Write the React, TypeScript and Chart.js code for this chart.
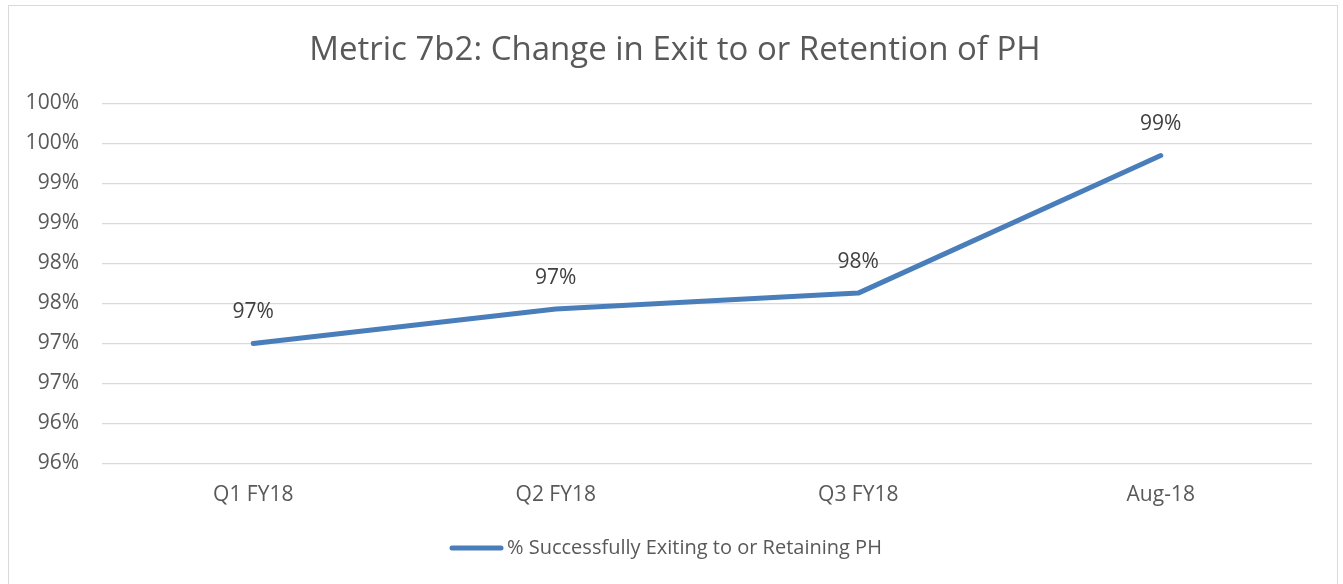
import React, { useEffect, useRef } from "react";
import { Chart, registerables } from "chart.js";

Chart.register(...registerables);

const TITLE = "Metric 7b2: Change in Exit to or Retention of PH";
const categories = ["Q1 FY18", "Q2 FY18", "Q3 FY18", "Aug-18"];
const seriesName = "% Successfully Exiting to or Retaining PH";
const seriesValues = [97.0, 97.43, 97.63, 99.35];
const yMin = 95.5;
const yMax = 100;
const yStep = 0.5;

const FONT = "'Open Sans', sans-serif";
const LINE_COLOR = "#4A7EBB";

const decorPlugin = {
  id: "decor",
  beforeDraw(chart: any) {
    const ctx = chart.ctx;
    ctx.save();
    ctx.fillStyle = "#ffffff";
    ctx.fillRect(0, 0, chart.width, chart.height);
    ctx.strokeStyle = "#d9d9d9";
    ctx.lineWidth = 1;
    ctx.strokeRect(8.5, 5.5, 1329, 620);
    ctx.restore();
  },
  afterDraw(chart: any) {
    const ctx = chart.ctx;
    ctx.save();
    // title
    ctx.fillStyle = "#595959";
    ctx.font = `33px ${FONT}`;
    ctx.textAlign = "center";
    ctx.textBaseline = "alphabetic";
    ctx.fillText(TITLE, 675, 60);
    // legend
    ctx.strokeStyle = LINE_COLOR;
    ctx.lineWidth = 5;
    ctx.lineCap = "round";
    ctx.beginPath();
    ctx.moveTo(452, 548);
    ctx.lineTo(501, 548);
    ctx.stroke();
    ctx.font = `20px ${FONT}`;
    ctx.textAlign = "left";
    ctx.textBaseline = "middle";
    ctx.fillText(chart.data.datasets[0].label, 507, 548);
    ctx.restore();
  },
  afterDatasetsDraw(chart: any) {
    const ctx = chart.ctx;
    const meta = chart.getDatasetMeta(0);
    const vals = chart.data.datasets[0].data as number[];
    ctx.save();
    ctx.fillStyle = "#404040";
    ctx.font = `21px ${FONT}`;
    ctx.textAlign = "center";
    ctx.textBaseline = "middle";
    meta.data.forEach((pt: any, i: number) => {
      ctx.fillText(Math.round(vals[i]) + "%", pt.x, pt.y - 31);
    });
    ctx.restore();
  },
};

export default function App() {
  const ref = useRef<HTMLCanvasElement>(null);
  useEffect(() => {
    if (!ref.current) return;
    const chart = new Chart(ref.current, {
      type: "line",
      data: {
        labels: categories,
        datasets: [
          {
            label: seriesName,
            data: seriesValues,
            borderColor: LINE_COLOR,
            backgroundColor: LINE_COLOR,
            borderWidth: 5,
            borderCapStyle: "round",
            borderJoinStyle: "round",
            pointRadius: 0,
            pointHoverRadius: 0,
            tension: 0,
            fill: false,
          },
        ],
      },
      options: {
        responsive: false,
        animation: false,
        devicePixelRatio: 1,
        layout: { padding: { left: 0, top: 103.5, right: 31, bottom: 0 } },
        plugins: {
          legend: { display: false },
          title: { display: false },
          tooltip: { enabled: false },
        },
        scales: {
          x: {
            type: "category",
            offset: true,
            grid: { display: false, drawTicks: false },
            border: { display: false },
            ticks: {
              color: "#595959",
              font: { family: FONT, size: 21 },
              padding: 19,
              maxRotation: 0,
            },
            afterFit(scale: any) {
              scale.height = 120.5;
            },
          },
          y: {
            min: yMin,
            max: yMax,
            grid: { color: "#d9d9d9", lineWidth: 1.3, drawTicks: false },
            border: { display: false },
            ticks: {
              stepSize: yStep,
              color: "#595959",
              font: { family: FONT, size: 21 },
              padding: 23,
              callback: (v: any) => Math.round(Number(v)) + "%",
            },
            afterFit(scale: any) {
              scale.width = 102;
            },
          },
        },
      },
      plugins: [decorPlugin],
    });
    return () => chart.destroy();
  }, []);
  return (
    <div style={{ position: "absolute", left: 0, top: 0, width: 1343, height: 584 }}>
      <canvas ref={ref} width={1343} height={584} style={{ display: "block" }} />
    </div>
  );
}
